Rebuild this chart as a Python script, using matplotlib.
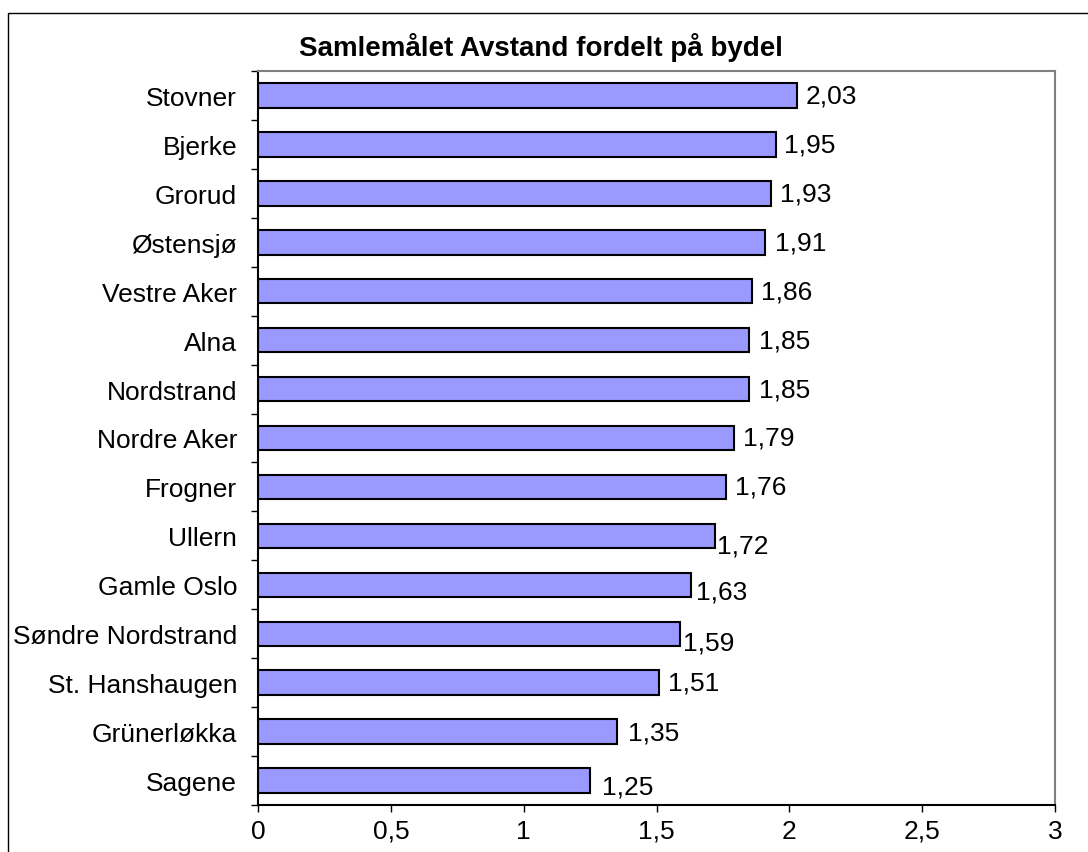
import matplotlib
matplotlib.use("Agg")
import matplotlib.pyplot as plt
from matplotlib.patches import Rectangle

# Bydeler (ovenfra og ned) og verdier
bydeler = ['Stovner', 'Bjerke', 'Grorud', 'Østensjø', 'Vestre Aker', 'Alna',
           'Nordstrand', 'Nordre Aker', 'Frogner', 'Ullern', 'Gamle Oslo',
           'Søndre Nordstrand', 'St. Hanshaugen', 'Grünerløkka', 'Sagene']
verdier = [2.03, 1.95, 1.93, 1.91, 1.86, 1.85, 1.85, 1.79, 1.76, 1.72,
           1.63, 1.59, 1.51, 1.35, 1.25]
x_ticks = [0, 0.5, 1, 1.5, 2, 2.5, 3]
x_ticklabels = ['0', '0,5', '1', '1,5', '2', '2,5', '3']
tittel = 'Samlemålet Avstand fordelt på bydel'

# Excel flytter noen av etikettene litt (piksler: høyre, ned)
etikett_flytt = [(0, 0), (0, 0), (1, 0), (1, 0), (1, 0), (1, 0), (1, 0), (1, 0),
                 (1, 0), (-6, 10), (-3, 7), (-6, 9), (1, 0), (3, 1), (4, 6)]

plt.rcParams['font.family'] = ['Liberation Sans', 'DejaVu Sans']

fig = plt.figure(figsize=(10.88, 8.53), dpi=100)
ax = fig.add_axes([258 / 1088, 1 - 806 / 853, (1055 - 258) / 1088, (806 - 72) / 853])

n = len(bydeler)
pos = list(range(n - 1, -1, -1))
ax.barh(pos, verdier, height=0.5, color='#9999FF', edgecolor='black', linewidth=1.5)

px = 72 / fig.dpi
for p, v, (dx, dy) in zip(pos, verdier, etikett_flytt):
    ax.annotate(f'{v:.2f}'.replace('.', ','), xy=(v, p),
                xytext=(6 + dx * px, -dy * px),
                textcoords='offset points', va='center', ha='left', fontsize=19)

ax.set_xlim(0, 3)
ax.set_ylim(-0.5, n - 0.5)
ax.set_xticks(x_ticks)
ax.set_xticklabels(x_ticklabels, fontsize=19)

# kategorinavn midt i feltet, tick-streker på grensene
ax.set_yticks(pos)
ax.set_yticklabels(bydeler, fontsize=19)
ax.tick_params(axis='y', which='major', length=0, pad=15)
ax.set_yticks([i - 0.5 for i in range(n + 1)], minor=True)
ax.tick_params(axis='y', which='minor', length=5, width=1, direction='out')
ax.tick_params(axis='x', length=5, width=1, direction='out', pad=5)

for side in ['left', 'bottom']:
    ax.spines[side].set_color('black')
    ax.spines[side].set_linewidth(1.5)
for side in ['top', 'right']:
    ax.spines[side].set_color('#808080')
    ax.spines[side].set_linewidth(1.5)

fig.text(0.497, 1 - 47 / 853, tittel, ha='center', va='center',
         fontsize=20, fontweight='bold')

# ytre ramme rundt diagrammet
fig.patches.append(Rectangle((8 / 1088, -0.1), 1.2, 1.1 - 14 / 853,
                             transform=fig.transFigure, fill=False,
                             edgecolor='black', linewidth=1))

fig.savefig('out.png', dpi=100)
